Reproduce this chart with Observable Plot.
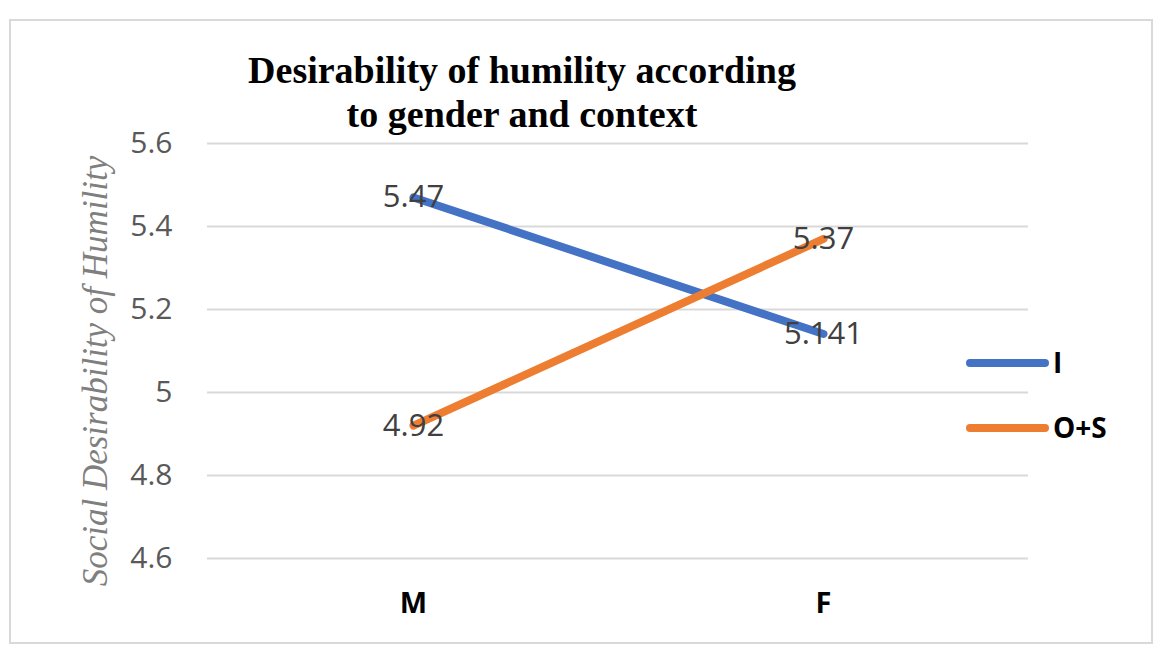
<!DOCTYPE html>
<html>
<head>
<meta charset="utf-8">
<script src="https://cdn.jsdelivr.net/npm/d3@7"></script>
<script src="https://cdn.jsdelivr.net/npm/@observablehq/plot@0.6"></script>
<style>
  html, body { margin: 0; padding: 0; background: #fff; }
  #chart { position: relative; width: 1164px; height: 660px; }
  #chart svg { display: block; }
  [aria-label="y-axis tick label"] text { fill: #595959; }
  [aria-label="x-axis tick label"] text { fill: #000; }
</style>
</head>
<body>
<div id="chart"></div>
<script>
const categories = ["M", "F"];
const seriesNames = ["I", "O+S"];
const valuesI = [5.47, 5.141];
const valuesOS = [4.92, 5.37];
const yTicks = [4.6, 4.8, 5, 5.2, 5.4, 5.6];
const colors = ["#4472C4", "#ED7D31"];
const titleLines = ["Desirability of humility according", "to gender and context"];
const yLabel = "Social Desirability of Humility";

const data = [];
categories.forEach((c, i) => data.push({series: seriesNames[0], cat: c, value: valuesI[i]}));
categories.forEach((c, i) => data.push({series: seriesNames[1], cat: c, value: valuesOS[i]}));

const W = 1164, H = 660;
const chart = Plot.plot({
  width: W,
  height: H,
  marginLeft: 207,
  marginRight: 136,
  marginTop: 143,
  marginBottom: 102,
  style: {fontFamily: "'Open Sans', sans-serif", background: "#fff"},
  x: {type: "point", domain: categories, padding: 0.5, label: null},
  y: {domain: [4.6, 5.6], label: null},
  color: {domain: seriesNames, range: colors},
  marks: [
    Plot.ruleY(yTicks, {stroke: "#d9d9d9", strokeWidth: 2}),
    Plot.axisY({ticks: yTicks, tickSize: 0, tickPadding: 35, tickFormat: d => String(d), fontSize: 30, label: null}),
    Plot.axisX({tickSize: 0, tickPadding: 34, fontSize: 29, fontWeight: "bold", label: null}),
    Plot.line(data, {x: "cat", y: "value", z: "series", stroke: "series", strokeWidth: 8, strokeLinecap: "round"}),
    Plot.text(data, {x: "cat", y: "value", text: d => String(d.value), fontSize: 31, fill: "#404040"})
  ]
});

const svg = d3.select(chart);
// border
svg.insert("rect", ":first-child")
  .attr("x", 10).attr("y", 20).attr("width", 1142).attr("height", 623)
  .attr("fill", "#fff").attr("stroke", "#d9d9d9").attr("stroke-width", 2);

// title
const title = svg.append("text")
  .attr("text-anchor", "middle")
  .attr("font-family", "'Liberation Serif', serif")
  .attr("font-weight", "bold")
  .attr("font-size", 38)
  .attr("fill", "#000");
titleLines.forEach((t, i) => {
  title.append("tspan").attr("x", 522).attr("y", 83 + i * 44).text(t);
});

// y label
svg.append("text")
  .attr("transform", "translate(107,371) rotate(-90)")
  .attr("text-anchor", "middle")
  .attr("font-family", "'Liberation Serif', serif")
  .attr("font-style", "italic")
  .attr("font-size", 35)
  .attr("fill", "#7f7f7f")
  .text(yLabel);

// legend
const legendY = [363, 428];
seriesNames.forEach((s, i) => {
  const g = svg.append("g");
  g.append("line")
    .attr("x1", 970).attr("x2", 1045).attr("y1", legendY[i]).attr("y2", legendY[i])
    .attr("stroke", colors[i]).attr("stroke-width", 8).attr("stroke-linecap", "round");
  g.append("text")
    .attr("x", 1053).attr("y", legendY[i])
    .attr("dy", "0.36em")
    .attr("text-anchor", "start")
    .attr("font-family", "'Open Sans', sans-serif")
    .attr("font-weight", "bold")
    .attr("font-size", 28)
    .attr("fill", "#000")
    .text(s);
});

document.getElementById("chart").appendChild(chart);
</script>
</body>
</html>
